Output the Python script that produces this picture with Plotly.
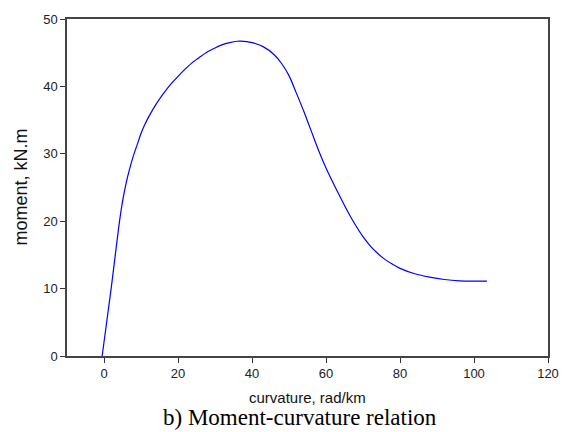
import plotly.graph_objects as go

curvature = [-0.5, 2, 4, 5, 6, 7, 8, 9, 10, 11, 12, 14, 16, 18, 20, 22, 24, 26, 28, 30, 32, 34, 36, 37,
             40, 43, 46, 48, 50, 52, 54, 56, 58, 60, 62, 64, 66, 68, 70, 72, 74, 76, 78, 80,
             84, 88, 92, 96, 100, 103.5]
moment = [0.0, 10.3, 19.2, 22.9, 25.7, 27.9, 29.8, 31.4, 33.0, 34.3, 35.4, 37.3, 38.9, 40.3, 41.5,
          42.6, 43.6, 44.4, 45.15, 45.7, 46.2, 46.5, 46.7, 46.72,
          46.5, 45.9, 44.7, 43.4, 41.6, 39.0, 36.3, 33.4, 30.5, 27.9, 25.6, 23.4, 21.3, 19.4,
          17.7, 16.3, 15.2, 14.3, 13.6, 13.0, 12.2, 11.7, 11.35, 11.15, 11.1, 11.1]

x_ticks = [0, 20, 40, 60, 80, 100, 120]
y_ticks = [0, 10, 20, 30, 40, 50]

fig = go.Figure()
fig.add_trace(go.Scatter(x=curvature, y=moment, mode="lines",
                         line=dict(color="#0000ff", width=1.2, shape="spline", smoothing=0.8),
                         showlegend=False, hoverinfo="skip"))

font_tick = dict(family="Liberation Sans, Arial", size=13, color="#222222")
font_title = dict(family="Liberation Sans, Arial", size=15, color="#111111")
fig.update_layout(
    width=571, height=432,
    margin=dict(l=67, r=16, t=15, b=76),
    plot_bgcolor="white", paper_bgcolor="white",
    xaxis=dict(range=[-10, 120], tickvals=x_ticks, ticks="outside", ticklen=5, tickcolor="#333",
               showgrid=False, zeroline=False, showline=True, linecolor="#444", linewidth=1.5,
               mirror=True, tickfont=font_tick),
    yaxis=dict(range=[0, 50], tickvals=y_ticks, ticks="outside", ticklen=5, tickcolor="#333",
               showgrid=False, zeroline=False, showline=True, linecolor="#444", linewidth=1.5,
               mirror=True, tickfont=font_tick),
    annotations=[
        dict(text="curvature, rad/km", xref="paper", yref="paper", x=0.5, y=0,
             yanchor="middle", yshift=-41, showarrow=False, font=font_title, borderpad=0),
        dict(text="moment, kN.m", xref="paper", yref="paper", x=0, y=0.5,
             xanchor="center", yanchor="middle", xshift=-47, textangle=-90,
             showarrow=False, font=dict(family="Liberation Sans, Arial", size=18, color="#111111")),
        dict(text="b) Moment-curvature relation", xref="paper", yref="paper",
             x=0.5, y=0, xshift=-8, yanchor="bottom", yshift=-75, showarrow=False, borderpad=0,
             font=dict(family="Liberation Serif, Times New Roman", size=23, color="black")),
    ],
)
fig.write_html("out.html")
